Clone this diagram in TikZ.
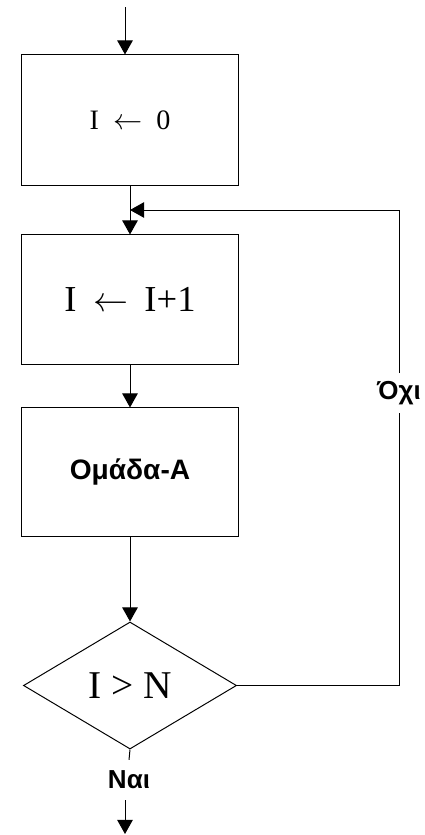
\documentclass[tikz,border=0pt]{standalone}
\usepackage{fontspec}
\setmainfont{Liberation Serif}
\newfontfamily\greekfont{Liberation Sans}
\usetikzlibrary{shapes.geometric,arrows.meta}

\begin{document}
\begin{tikzpicture}[x=0.025cm, y=0.025cm, line width=0.7pt,
    procbox/.style={draw=black, minimum width=5.4cm, inner sep=0pt},
    testbox/.style={draw=black, diamond, minimum width=5.325cm, minimum height=3.175cm, inner sep=0pt},
    flow/.style={-{Triangle[length=10pt,width=11pt]}},
    lbl/.style={font=\greekfont\bfseries\fontsize{18.5}{20}\selectfont}]
            \useasboundingbox (0,0) rectangle (425,-835);
            % boxes
            \node[procbox, minimum height=3.25cm, font=\fontsize{20}{24}\selectfont] (init) at (130,-120) {I\hspace{0.5em}$\leftarrow$\hspace{0.5em}0};
            \node[procbox, minimum height=3.225cm, font=\fontsize{26}{30}\selectfont] (incr) at (130,-299.5) {I\hspace{0.45em}$\leftarrow$\hspace{0.45em}I+1};
            \node[procbox, minimum height=3.2cm, lbl, font=\greekfont\bfseries\fontsize{20}{22}\selectfont] (groupA) at (130,-472) {Ομάδα-Α};
            \node[testbox, font=\fontsize{28}{32}\selectfont] (test) at (130,-685.5) {I > N};
            % labels
            \node[lbl, inner sep=5.5pt] (no) at (399,-393) {Όχι};
            \node[lbl, inner sep=7.5pt] (yes) at (129,-780) {Ναι};
            \coordinate (entry) at (125,-7);
            \coordinate (exit) at (125,-834);
            \coordinate (join) at (130,-210);
            % connectors
            \draw[flow] (entry) -- (entry |- init.north);
            \draw[flow] (init) -- (incr);
            \draw[flow] (incr) -- (groupA);
            \draw[flow] (groupA) -- (test);
            \draw (test.east) -| (no.south);
            \draw[flow] (no.north) |- (join);
            \draw (test.south) -- (yes.north);
            \draw[flow] (yes.south -| exit) -- (exit);
\end{tikzpicture}
\end{document}
